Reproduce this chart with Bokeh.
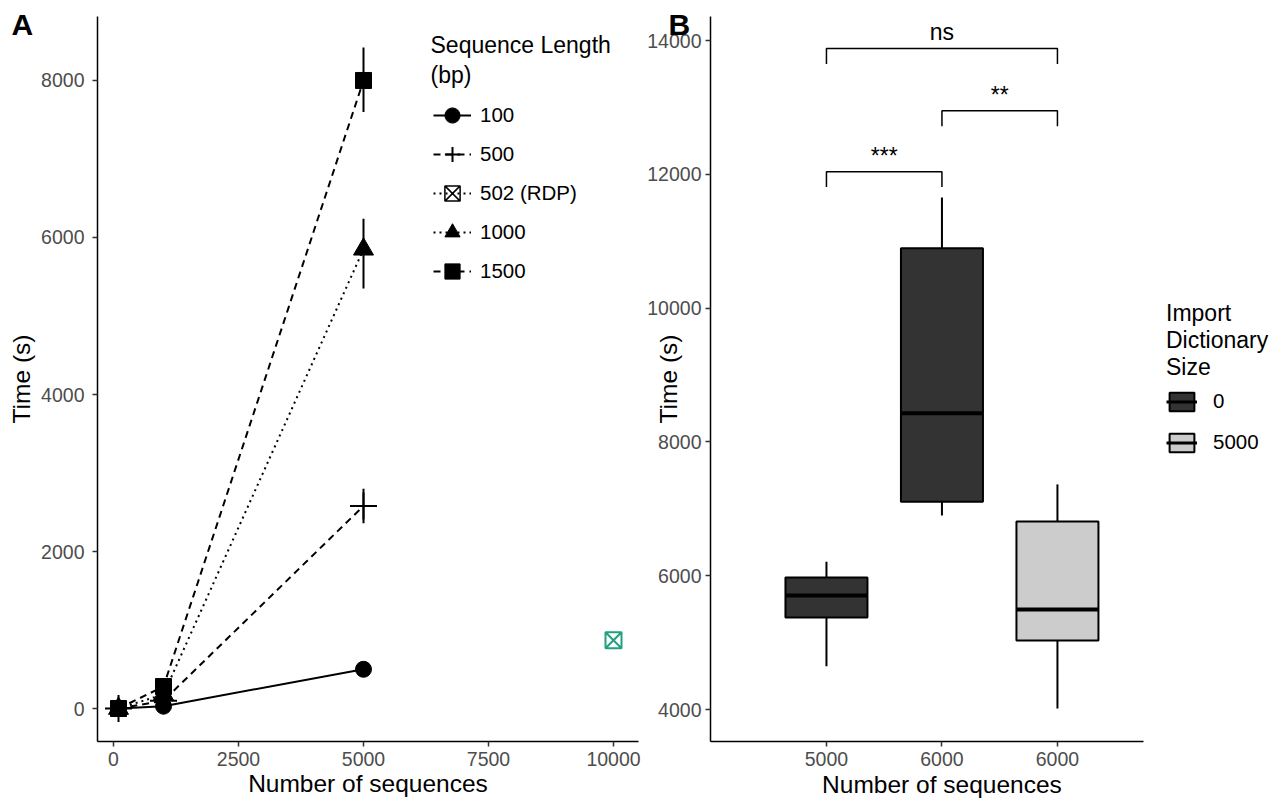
from bokeh.plotting import figure
from bokeh.models import Range1d, FixedTicker, Legend, LegendItem, Label, ColumnDataSource
from bokeh.core.properties import value
from bokeh.layouts import row
from bokeh.embed import file_html
from bokeh.resources import INLINE

FONT = "Liberation Sans"

# ---------------- Panel A data ----------------
n_seq = [100, 1000, 5000]
t_100 = [0, 30, 500]
t_500 = [0, 100, 2580]
t_1000 = [0, 180, 5850]
t_1500 = [0, 280, 8000]
rdp_n = [10000]
rdp_t = [870]
err_n = [5000, 5000, 5000]
err_lo = [2360, 5350, 7600]
err_hi = [2800, 6240, 8420]
a_xticks = [0, 2500, 5000, 7500, 10000]
a_yticks = [0, 2000, 4000, 6000, 8000]
legend_a_labels = ["100", "500", "502 (RDP)", "1000", "1500"]

# ---------------- Panel B data ----------------
box_x = [1, 2, 3]
box_labels = ["5000", "6000", "6000"]
dict_size = ["0", "0", "5000"]
q1 = [5375, 7105, 5030]
med = [5705, 8430, 5495]
q3 = [5975, 10895, 6810]
lo = [4645, 6900, 4015]
hi = [6210, 11655, 7365]
b_yticks = [4000, 6000, 8000, 10000, 12000, 14000]
cmp_x0 = [1, 2, 1]
cmp_x1 = [3, 3, 2]
cmp_y = [13880, 12950, 12040]
cmp_label = ["ns", "**", "***"]
legend_b_labels = ["0", "5000"]

TICK_COLOR = "#4D4D4D"
TICK_SIZE = "19.5px"
TITLE_SIZE = "24.5px"


def style(p):
    p.outline_line_color = None
    p.xgrid.visible = False
    p.ygrid.visible = False
    for ax in (p.xaxis[0], p.yaxis[0]):
        ax.axis_line_color = "black"
        ax.axis_line_width = 1.5
        ax.major_tick_line_color = "#333333"
        ax.major_tick_line_width = 1.5
        ax.major_tick_out = 5
        ax.major_tick_in = 0
        ax.minor_tick_line_color = None
        ax.major_label_text_font = FONT
        ax.major_label_text_font_size = TICK_SIZE
        ax.major_label_text_color = TICK_COLOR
        ax.axis_label_text_font = FONT
        ax.axis_label_text_font_size = TITLE_SIZE
        ax.axis_label_text_font_style = "normal"
        ax.axis_label_text_color = "black"


def panel_tag(p, text, offset):
    p.title.text = text
    p.title.align = "left"
    p.title.offset = offset
    p.title.standoff = -48
    p.title.text_font = FONT
    p.title.text_font_size = "30px"
    p.title.text_font_style = "bold"
    p.title.text_color = "black"


# ================= Panel A =================
pA = figure(width=645, height=802, output_backend="svg", toolbar_location=None,
            x_range=Range1d(-320, 10500), y_range=Range1d(-420, 8815),
            min_border_left=97, min_border_right=7, min_border_top=16, min_border_bottom=61)
style(pA)
panel_tag(pA, "A", -86)
pA.xaxis.ticker = FixedTicker(ticks=a_xticks)
pA.yaxis.ticker = FixedTicker(ticks=a_yticks)
pA.xaxis.axis_label = "Number of sequences"
pA.yaxis.axis_label = "Time (s)"
pA.xaxis.major_label_standoff = 5
pA.xaxis.axis_label_standoff = 1
pA.yaxis.major_label_standoff = 8
pA.yaxis.axis_label_standoff = 3

LW = 2
r_l100 = pA.line(n_seq, t_100, line_color="black", line_width=LW)
r_l500 = pA.line(n_seq, t_500, line_color="black", line_width=LW, line_dash="7 5")
r_l1000 = pA.line(n_seq, t_1000, line_color="black", line_width=LW, line_dash="2 4")
r_l1500 = pA.line(n_seq, t_1500, line_color="black", line_width=LW, line_dash="7 5")

pA.segment(x0=err_n, y0=err_lo, x1=err_n, y1=err_hi, line_color="black", line_width=LW)

r_m100 = pA.scatter(n_seq, t_100, marker="circle", size=16, color="black")
r_m500 = pA.scatter(n_seq, t_500, marker="cross", size=27, line_color="black", line_width=2)
r_m1000 = pA.scatter(n_seq, t_1000, marker="triangle", size=20, color="black")
r_m1500 = pA.scatter(n_seq, t_1500, marker="square", size=16, color="black")
pA.scatter(rdp_n, rdp_t, marker="square_x", size=16, fill_color=None,
           line_color="#23A07F", line_width=2)

# legend-only renderers for the RDP key (black in the key)
nan = float("nan")
r_lrdp = pA.line([nan, nan], [nan, nan], line_color="black", line_width=LW, line_dash="2 4")
r_mrdp = pA.scatter([nan], [nan], marker="square_x", size=16, fill_color=None,
                    line_color="black", line_width=1.5)

legA = Legend(items=[
    LegendItem(label=legend_a_labels[0], renderers=[r_l100, r_m100]),
    LegendItem(label=legend_a_labels[1], renderers=[r_l500, r_m500]),
    LegendItem(label=legend_a_labels[2], renderers=[r_lrdp, r_mrdp]),
    LegendItem(label=legend_a_labels[3], renderers=[r_l1000, r_m1000]),
    LegendItem(label=legend_a_labels[4], renderers=[r_l1500, r_m1500]),
], location=(336, 451))
legA.glyph_width = 38
legA.glyph_height = 38
legA.label_height = 38
legA.spacing = 1
legA.padding = 0
legA.margin = 0
legA.label_standoff = 9
legA.label_text_font = FONT
legA.label_text_font_size = "20.5px"
legA.label_text_color = "black"
legA.background_fill_alpha = 0
legA.border_line_color = None
pA.add_layout(legA, "center")

pA.add_layout(Label(x=6340, y=8446, text="Sequence Length", text_font=FONT, text_color="black",
                    text_font_size="23px", text_baseline="middle", text_align="left"))
pA.add_layout(Label(x=6340, y=8075, text="(bp)", text_font=FONT, text_color="black",
                    text_font_size="23px", text_baseline="middle", text_align="left"))

# ================= Panel B =================
pB = figure(width=636, height=802, output_backend="svg", toolbar_location=None,
            x_range=Range1d(-0.004, 4.94), y_range=Range1d(3522, 14359),
            min_border_left=65, min_border_right=0, min_border_top=16, min_border_bottom=61)
style(pB)
panel_tag(pB, "B", -42)
pB.xaxis.ticker = FixedTicker(ticks=box_x)
pB.xaxis.bounds = (-0.004, 3.745)
pB.xaxis.major_label_overrides = {x: lab for x, lab in zip(box_x, box_labels)}
pB.yaxis.ticker = FixedTicker(ticks=b_yticks)
pB.yaxis.axis_label = "Time (s)"
pB.xaxis.major_label_standoff = 5
pB.yaxis.major_label_standoff = 4
pB.yaxis.axis_label_standoff = -38
pB.add_layout(Label(x=2, y=2880, text="Number of sequences", text_font=FONT,
                    text_color="black", text_font_size=TITLE_SIZE,
                    text_baseline="middle", text_align="center"), "below")

BW = 0.71
fill_map = {"0": "#333333", "5000": "#CCCCCC"}
src = ColumnDataSource(dict(
    x=box_x, q1=q1, med=med, q3=q3, lo=lo, hi=hi, g=dict_size,
    fill=[fill_map[g] for g in dict_size],
    xl=[x - BW / 2 for x in box_x], xr=[x + BW / 2 for x in box_x],
))
pB.segment(x0="x", y0="lo", x1="x", y1="q1", source=src, line_color="black", line_width=2)
pB.segment(x0="x", y0="q3", x1="x", y1="hi", source=src, line_color="black", line_width=2)
pB.vbar(x="x", width=BW, bottom="q1", top="q3", source=src, fill_color="fill",
        line_color="black", line_width=2)
pB.segment(x0="xl", y0="med", x1="xr", y1="med", source=src, line_color="black", line_width=4)

# significance brackets
TIP = 230
br_xs = [[a, a, b, b] for a, b in zip(cmp_x0, cmp_x1)]
br_ys = [[y - TIP, y, y, y - TIP] for y in cmp_y]
pB.multi_line(xs=br_xs, ys=br_ys, line_color="black", line_width=1.5)
pB.text(x=[(a + b) / 2 for a, b in zip(cmp_x0, cmp_x1)], y=[y + 240 for y in cmp_y],
        text=cmp_label, text_font=value(FONT), text_font_size="23px",
        text_align="center", text_baseline="alphabetic", text_color="black")

# legend-only renderers for the fill key
rb0 = pB.vbar(x=[nan], width=BW, bottom=[nan], top=[nan], fill_color=fill_map["0"],
              line_color="black", line_width=2)
rm0 = pB.segment(x0=[nan], y0=[nan], x1=[nan], y1=[nan], line_color="black", line_width=3)
rb1 = pB.vbar(x=[nan], width=BW, bottom=[nan], top=[nan], fill_color=fill_map["5000"],
              line_color="black", line_width=2)
rm1 = pB.segment(x0=[nan], y0=[nan], x1=[nan], y1=[nan], line_color="black", line_width=3)
legB = Legend(items=[
    LegendItem(label=legend_b_labels[0], renderers=[rb0, rm0]),
    LegendItem(label=legend_b_labels[1], renderers=[rb1, rm1]),
], location=(456, 287), title="Import\nDictionary\nSize")
legB.glyph_width = 31
legB.glyph_height = 23
legB.label_height = 23
legB.spacing = 17
legB.padding = 0
legB.margin = 0
legB.label_standoff = 16
legB.label_text_font = FONT
legB.label_text_font_size = "20.5px"
legB.label_text_color = "black"
legB.title_text_font = FONT
legB.title_text_font_size = "23px"
legB.title_text_font_style = "normal"
legB.title_text_color = "black"
legB.title_standoff = 8
legB.background_fill_alpha = 0
legB.border_line_color = None
pB.add_layout(legB, "center")

layout = row(pA, pB)
open("out.html", "w").write(file_html(layout, INLINE))
